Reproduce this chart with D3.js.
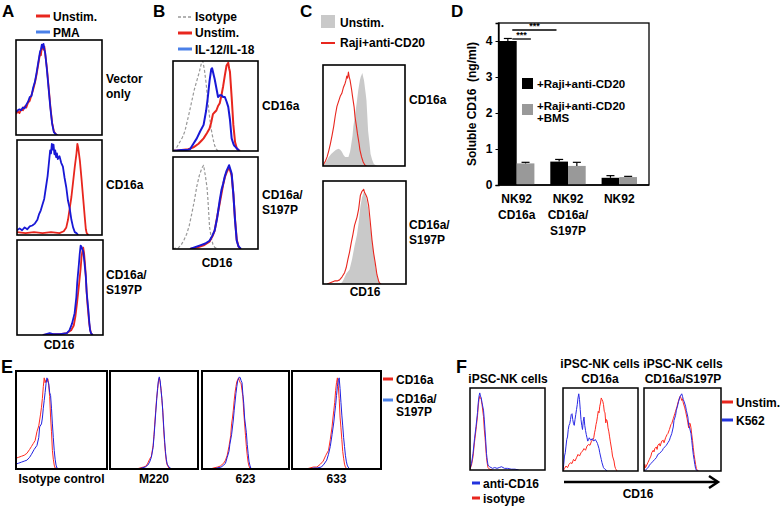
<!DOCTYPE html>
<html><head><meta charset="utf-8">
<script src="https://cdn.jsdelivr.net/npm/d3@7"></script>
<style>body{margin:0;background:#fff}svg{display:block}</style>
</head><body>
<script>
// ================= DATA =================
// Histogram curves: [channel % of box width, count % of box height]
// Panel A
const aVecUnstim=[[0,22],[2,25],[4,23],[6,27],[8,26],[10,30],[12,29],[14,34],[16,36],[18,42],[20,48],[22,55],[24,64],[26,75],[28,86],[29,84],[30,92],[31,95],[32,90],[33,93],[34,85],[36,70],[38,50],[40,30],[42,13],[44,4],[46,1],[48,0]];
const aVecPMA=[[0,24],[2,26],[4,27],[6,26],[8,29],[10,28],[12,32],[14,35],[16,40],[18,41],[20,50],[22,56],[24,66],[26,77],[28,88],[29,90],[30,95],[31,92],[32,96],[33,90],[34,86],[36,68],[38,48],[40,28],[42,12],[44,3],[46,1],[48,0]];
const aCdUnstim=[[0,3],[10,2],[20,3],[30,2],[40,3],[50,2],[55,4],[58,8],[60,16],[62,28],[64,40],[66,56],[68,72],[70,86],[71,96],[72,92],[73,85],[74,78],[76,58],[78,37],[80,16],[81,6],[82,2],[84,0]];
const aCdPMA=[[0,5],[3,7],[6,5],[9,8],[12,6],[15,9],[18,10],[21,12],[24,16],[26,22],[28,26],[30,32],[32,38],[34,50],[36,62],[38,80],[39,89],[40,86],[41,96],[42,90],[43,95],[44,85],[45,89],[46,82],[47,86],[48,80],[50,83],[52,76],[54,72],[56,60],[58,50],[60,36],[62,28],[64,16],[66,8],[68,3],[70,2],[72,0]];
const aSpUnstim=[[30,0],[40,1],[50,1],[58,2],[63,5],[66,10],[68,20],[70,35],[72,52],[74,70],[75,82],[76,88],[77,92],[78,86],[79,76],[80,62],[81,45],[82,32],[83,22],[84,12],[85,6],[86,2],[88,0]];
const aSpPMA=[[30,0],[34,1],[38,2],[42,1],[50,1],[58,2],[61,5],[64,12],[67,23],[69,40],[70,55],[72,75],[73,86],[74,94],[75,93],[76,90],[77,88],[78,80],[80,62],[81,45],[83,26],[84,14],[85,5],[86,2],[88,0]];
// Panel B
const bCdIso=[[0,0],[3,2],[5,5],[8,10],[11,15],[14,22],[16,30],[19,42],[22,55],[25,68],[28,78],[31,88],[33,96],[35,100],[37,90],[39,75],[41,55],[43,38],[45,24],[47,14],[49,6],[51,2],[53,0]];
const bCdUnstim=[[0,0],[10,1],[18,2],[24,4],[30,8],[34,12],[36,14],[40,20],[43,25],[45,32],[47,41],[49,43],[51,45],[53,50],[55,53],[57,62],[59,72],[61,84],[63,95],[65,98],[66,92],[67,88],[69,60],[71,29],[73,10],[75,3],[77,1],[79,0]];
const bCdIL=[[0,0],[10,1],[16,1],[20,2],[24,8],[28,14],[32,22],[36,29],[39,45],[41,60],[43,78],[45,91],[46,92],[47,88],[48,84],[49,80],[51,70],[53,60],[55,62],[57,62],[59,60],[61,60],[63,55],[65,49],[67,35],[69,14],[71,8],[72,6],[74,4],[76,2],[78,0]];
const bSpIso=[[0,0],[3,1],[6,1],[10,5],[13,10],[16,16],[19,25],[22,38],[25,52],[28,68],[31,80],[34,88],[36,91],[38,80],[40,67],[41,55],[43,24],[45,12],[47,5],[49,2],[52,0]];
const bSpUnstim=[[20,0],[30,2],[36,4],[43,8],[47,15],[49,20],[52,35],[55,50],[57,60],[59,70],[61,78],[63,83],[65,87],[66,88],[67,86],[69,80],[71,60],[73,32],[75,10],[77,3],[79,0]];
const bSpIL=[[20,0],[26,2],[32,4],[38,6],[43,9],[46,14],[49,20],[52,34],[55,53],[57,64],[59,71],[61,79],[63,85],[65,89],[66,91],[67,88],[69,82],[71,60],[73,31],[75,9],[77,3],[78,2],[80,0]];
// Panel C
const cCdUnstim=[[0,0],[2,2],[5,6],[7,9],[10,12],[13,14],[16,16],[19,17],[21,16],[23,14],[25,11],[27,9],[29,9],[31,9],[33,14],[34,19],[36,30],[37,39],[39,50],[41,62],[43,75],[45,85],[46,88],[47,90],[48,92],[49,88],[50,85],[52,72],[53,65],[54,50],[55,35],[57,20],[58,12],[60,6],[62,2],[64,1],[66,0]];
const cCdRaji=[[0,0],[1,2],[3,5],[5,9],[7,15],[9,22],[11,30],[13,39],[15,50],[17,59],[19,64],[21,69],[23,72],[25,78],[27,82],[28,85],[29,89],[30,87],[31,93],[32,88],[33,85],[35,75],[36,69],[38,58],[39,49],[41,38],[42,32],[44,22],[45,16],[47,9],[49,4],[51,1],[53,0]];
const cSpUnstim=[[18,0],[22,1],[24,3],[28,10],[32,14],[35,24],[38,37],[41,48],[43,60],[45,75],[47,84],[49,89],[50,88],[51,87],[53,80],[55,70],[57,55],[59,43],[61,30],[63,17],[65,8],[67,3],[70,0]];
const cSpRaji=[[5,0],[8,1],[11,2],[14,3],[17,3],[20,4],[23,7],[26,11],[28,16],[30,24],[32,31],[34,40],[36,48],[38,57],[41,65],[43,73],[45,86],[47,90],[49,92],[50,89],[52,86],[53,84],[55,76],[57,60],[59,43],[61,30],[63,20],[65,9],[67,3],[68,1],[70,0]];
// Panel D
const dGroups=[["NK92","CD16a"],["NK92","CD16a/","S197P"],["NK92"]];
const dSeries=["+Raji+anti-CD20","+Raji+anti-CD20\n+BMS"];
const dValues=[[4.0,0.60],[0.65,0.53],[0.20,0.22]];
const dErrors=[[0.07,0.03],[0.06,0.10],[0.06,0.02]];
const dTicks=[0,1,2,3,4];
// Panel E
const eIsoA=[[0,11],[3,12],[6,13],[9,14],[12,16],[15,20],[17,23],[19,26],[21,29],[23,38],[25,44],[26,50],[27,56],[28,63],[29,72],[30,84],[31,93],[32,88],[33,91],[34,89],[35,92],[36,85],[37,74],[38,53],[39,38],[40,19],[41,10],[42,4],[43,1],[45,0]];
const eIsoS=[[0,5],[3,6],[6,7],[9,8],[12,9],[15,12],[17,15],[20,20],[23,24],[25,32],[26,43],[28,46],[29,52],[30,62],[31,70],[32,78],[33,87],[34,93],[35,90],[36,87],[37,78],[38,75],[39,62],[40,46],[41,32],[42,19],[43,10],[44,4],[45,1],[47,0]];
const eM220A=[[30,0],[34,1],[38,2],[41,3],[43,6],[45,10],[47,13],[49,24],[50,35],[51,48],[52,60],[53,72],[54,80],[55,89],[56,93],[57,88],[58,82],[59,70],[60,60],[61,40],[62,27],[63,16],[64,8],[65,4],[67,1],[69,0]];
const eM220S=[[32,0],[36,1],[40,2],[43,4],[45,7],[47,12],[49,22],[50,33],[51,45],[52,58],[53,70],[54,82],[55,90],[56,94],[57,90],[58,80],[59,72],[60,58],[61,44],[62,30],[63,18],[64,10],[65,5],[67,2],[70,0]];
const e623A=[[10,0],[13,1],[18,2],[21,3],[25,6],[27,9],[29,14],[31,23],[33,34],[34,46],[35,52],[36,60],[37,70],[38,78],[39,84],[40,89],[41,91],[42,93],[43,90],[44,88],[45,87],[46,80],[47,74],[48,58],[49,46],[50,34],[51,23],[52,14],[53,7],[54,3],[55,1],[57,0]];
const e623S=[[14,0],[17,1],[22,2],[25,4],[27,6],[29,12],[31,18],[32,25],[34,35],[36,50],[37,60],[39,77],[40,84],[41,90],[42,92],[43,94],[44,93],[45,90],[46,88],[47,76],[48,67],[49,52],[51,37],[52,25],[53,16],[54,8],[55,4],[56,1],[58,0]];
const e633A=[[16,0],[20,1],[24,2],[28,2],[32,5],[35,8],[38,14],[41,19],[43,30],[45,43],[46,52],[47,60],[48,68],[49,80],[50,88],[51,93],[52,85],[53,72],[54,53],[55,42],[56,30],[57,18],[58,11],[59,5],[60,2],[62,0]];
const e633S=[[20,0],[24,1],[28,1],[33,2],[36,5],[39,9],[41,15],[43,23],[45,35],[47,48],[48,57],[49,65],[50,75],[51,84],[52,90],[53,93],[54,82],[55,68],[56,55],[57,44],[58,32],[59,23],[60,14],[61,8],[62,4],[63,2],[65,0]];
const eLabels=["Isotype control","M220","623","633"];
// Panel F
const fAnti=[[0,2],[2,8],[4,20],[6,38],[8,53],[10,70],[11,82],[12,90],[13,94],[14,90],[15,88],[16,82],[18,73],[19,62],[20,49],[21,35],[22,20],[23,12],[24,6],[26,4],[28,3],[30,2],[33,3],[36,2],[39,3],[42,4],[44,3],[46,2],[50,2],[55,1],[60,1],[65,0]];
const fIso=[[0,1],[2,6],[4,16],[6,34],[8,49],[10,66],[11,78],[12,86],[13,90],[14,87],[15,86],[16,80],[18,65],[19,50],[20,40],[22,15],[23,8],[24,3],[26,1],[30,0]];
const fCdU=[[0,0],[2,3],[4,6],[6,4],[8,8],[10,10],[12,9],[14,14],[16,12],[18,16],[20,20],[22,18],[24,22],[26,24],[28,27],[30,25],[32,30],[34,32],[36,31],[38,36],[40,38],[41,40],[42,46],[43,50],[44,56],[45,60],[46,66],[47,72],[48,70],[49,78],[50,82],[51,88],[52,86],[53,84],[54,80],[55,72],[56,70],[57,58],[58,62],[59,60],[60,52],[61,48],[62,42],[63,36],[65,25],[66,18],[68,12],[69,6],[70,3],[72,0]];
const fCdK=[[0,1],[1,8],[2,18],[3,22],[4,30],[5,38],[6,41],[7,50],[8,55],[9,57],[10,62],[11,68],[12,69],[13,62],[14,57],[15,55],[16,62],[17,68],[18,74],[19,80],[20,88],[21,93],[22,86],[23,74],[24,62],[25,55],[26,50],[27,60],[28,65],[29,55],[30,49],[31,44],[32,40],[33,36],[34,38],[35,40],[37,37],[39,39],[41,36],[43,38],[45,35],[46,33],[48,27],[49,22],[51,14],[52,10],[54,4],[56,2],[59,0]];
const fSpU=[[0,0],[1,8],[2,4],[3,6],[5,10],[7,14],[9,18],[10,22],[12,25],[13,23],[14,27],[16,29],[17,26],[18,31],[20,33],[21,30],[23,36],[25,37],[26,34],[28,40],[30,44],[31,45],[33,50],[35,56],[36,57],[38,63],[40,69],[41,72],[43,78],[44,82],[46,88],[47,90],[48,88],[49,85],[50,87],[51,82],[53,76],[54,72],[56,63],[57,58],[58,52],[59,58],[60,57],[61,52],[62,44],[63,37],[64,28],[65,20],[66,14],[67,8],[68,3],[69,1],[71,0]];
const fSpK=[[0,0],[2,1],[4,3],[6,5],[7,7],[9,9],[11,11],[12,12],[14,14],[16,16],[18,20],[20,21],[22,23],[24,25],[25,27],[27,29],[29,31],[31,34],[33,37],[34,40],[36,45],[38,53],[39,61],[41,67],[42,73],[44,80],[45,84],[47,90],[49,93],[50,90],[51,86],[52,84],[54,78],[55,73],[57,65],[58,55],[59,53],[61,45],[62,37],[63,28],[64,20],[65,14],[66,8],[67,3],[68,1],[70,0]];

// ================= DRAWING =================
const W=780,H=509;
const FONT="'Liberation Sans', Arial, Helvetica, sans-serif";
const RED="#e8261e", BLUE="#1818d6", LBLUE="#4a80e8", GRAY="#999999", FILLG="#c9c9c9";
const svg=d3.select("body").append("svg").attr("width",W).attr("height",H);
svg.append("rect").attr("width",W).attr("height",H).attr("fill","#fff");

function txt(x,y,s,size,anchor){
  return svg.append("text").attr("x",x).attr("y",y).text(s)
    .attr("font-family",FONT).attr("font-weight","bold")
    .attr("font-size",size||12).attr("text-anchor",anchor||"start").attr("fill","#000");
}
function lines(x,y,arr,size,anchor,lh){
  arr.forEach((s,i)=>txt(x,y+i*(lh||15),s,size,anchor));
}
function hline(x0,x1,y,color,w,dash){
  const l=svg.append("line").attr("x1",x0).attr("x2",x1).attr("y1",y).attr("y2",y)
    .attr("stroke",color).attr("stroke-width",w||3);
  if(dash) l.attr("stroke-dasharray",dash);
}
let clipId=0;
function hist(box,series,bw){
  const x=d3.scaleLinear().domain([0,100]).range([box[0],box[1]]);
  const y=d3.scaleLinear().domain([0,100]).range([box[3],box[2]]);
  const id="clip"+(clipId++);
  svg.append("clipPath").attr("id",id).append("rect")
    .attr("x",box[0]).attr("y",box[2]).attr("width",box[1]-box[0]).attr("height",box[3]-box[2]);
  const g=svg.append("g").attr("clip-path","url(#"+id+")");
  series.forEach(s=>{
    if(s.fill){
      const area=d3.area().x(d=>x(d[0])).y0(y(0)).y1(d=>y(d[1]));
      g.append("path").datum(s.data).attr("d",area).attr("fill",s.fill).attr("stroke","none");
    } else {
      const line=d3.line().x(d=>x(d[0])).y(d=>y(d[1]));
      const p=g.append("path").datum(s.data).attr("d",line).attr("fill","none")
        .attr("stroke",s.color).attr("stroke-width",s.w||1).attr("stroke-linejoin","round");
      if(s.dash) p.attr("stroke-dasharray",s.dash);
    }
  });
  svg.append("rect").attr("x",box[0]).attr("y",box[2]).attr("width",box[1]-box[0]).attr("height",box[3]-box[2])
    .attr("fill","none").attr("stroke","#000").attr("stroke-width",bw||1.6);
}

// ---------- Panel A ----------
txt(2,17,"A",17);
hline(36,50,16,RED,3); txt(53,21,"Unstim.");
hline(36,50,32,LBLUE,3); txt(53,37,"PMA");
hist([16,102,40,135],[{data:aVecUnstim,color:RED,w:1.8},{data:aVecPMA,color:BLUE,w:1.8}]);
hist([17,102,140,235],[{data:aCdUnstim,color:RED,w:1.8},{data:aCdPMA,color:BLUE,w:1.8}]);
hist([17,103,240,335],[{data:aSpUnstim,color:RED,w:1.8},{data:aSpPMA,color:BLUE,w:1.8}]);
lines(106,83,["Vector","only"]);
txt(106,189,"CD16a");
lines(106,279,["CD16a/","S197P"]);
txt(59,349,"CD16",12,"middle");

// ---------- Panel B ----------
txt(153,17,"B",17);
hline(178,192,17,GRAY,1.5,"3,2"); txt(195,21,"Isotype");
hline(178,192,33,RED,3); txt(195,37,"Unstim.");
hline(178,192,49,LBLUE,3); txt(195,54,"IL-12/IL-18");
hist([173,258,61,151],[{data:bCdIso,color:GRAY,w:1.2,dash:"3,2"},{data:bCdUnstim,color:RED,w:2},{data:bCdIL,color:BLUE,w:2}]);
hist([173,258,157,249],[{data:bSpIso,color:GRAY,w:1.2,dash:"3,2"},{data:bSpUnstim,color:RED,w:2},{data:bSpIL,color:BLUE,w:2}]);
txt(262,110,"CD16a");
lines(262,199,["CD16a/","S197P"]);
txt(217,267,"CD16",12,"middle");

// ---------- Panel C ----------
txt(300,17,"C",17);
svg.append("rect").attr("x",321).attr("y",15).attr("width",14).attr("height",13).attr("fill",FILLG);
txt(340,27,"Unstim.");
hline(321,335,43,RED,2); txt(340,47,"Raji+anti-CD20");
hist([323,405,65,166],[{data:cCdUnstim,fill:FILLG},{data:cCdRaji,color:RED,w:1.1}]);
hist([323,406,181,284],[{data:cSpUnstim,fill:FILLG},{data:cSpRaji,color:RED,w:1.1}]);
txt(409,104,"CD16a");
lines(409,229,["CD16a/","S197P"]);
txt(365,296,"CD16",12,"middle");

// ---------- Panel D ----------
txt(451,17,"D",17);
const dY=d3.scaleLinear().domain([0,4.5]).range([185,23]);
const dX0=d3.scaleBand().domain(d3.range(dGroups.length)).range([499,637]).paddingInner(0.31).paddingOuter(0);
const dX1=d3.scaleBand().domain(d3.range(2)).range([0,dX0.bandwidth()]);
const dCols=["#000000","#999999"];
svg.append("rect").attr("x",498.5).attr("y",dY(4.5)).attr("width",649-498.5).attr("height",dY(0)-dY(4.5))
  .attr("fill","none").attr("stroke","#000").attr("stroke-width",1.3);
dValues.forEach((vals,gi)=>{
  vals.forEach((v,si)=>{
    const bx=dX0(gi)+dX1(si), bw=dX1.bandwidth();
    svg.append("rect").attr("x",bx).attr("y",dY(v)).attr("width",bw).attr("height",dY(0)-dY(v)).attr("fill",dCols[si]);
    const cx=bx+bw/2, top=dY(v+dErrors[gi][si]);
    svg.append("line").attr("x1",cx).attr("x2",cx).attr("y1",dY(v)).attr("y2",top).attr("stroke","#000").attr("stroke-width",1.2);
    svg.append("line").attr("x1",cx-4).attr("x2",cx+4).attr("y1",top).attr("y2",top).attr("stroke","#000").attr("stroke-width",1.2);
  });
});
const ax=svg.append("g").attr("transform","translate(498.5,0)")
  .call(d3.axisLeft(dY).tickValues(dTicks).tickSize(3).tickPadding(3).tickFormat(d3.format("d")));
ax.select(".domain").attr("stroke","#000").attr("stroke-width",1.3);
ax.selectAll("text").attr("font-family",FONT).attr("font-weight","bold").attr("font-size",12).attr("fill","#000");
svg.append("line").attr("x1",498.5).attr("x2",649).attr("y1",dY(0)).attr("y2",dY(0)).attr("stroke","#000").attr("stroke-width",1.6);
svg.append("text").attr("transform","translate(476,104) rotate(-90)").attr("text-anchor","middle")
  .attr("font-family",FONT).attr("font-weight","bold").attr("font-size",12).style("white-space","pre")
  .text("Soluble CD16  (ng/ml)");
dGroups.forEach((lab,gi)=>{
  const cx=dX0(gi)+dX0.bandwidth()/2;
  lines(cx,203,lab,12,"middle",16);
});
const s1x0=dX0(0)+dX1(0)+dX1.bandwidth()*0.75, s1x1=dX0(0)+dX1(1)+dX1.bandwidth()*0.8;
const s2x1=dX0(1)+dX1(0)+dX1.bandwidth()*0.35;
svg.append("line").attr("x1",s1x0).attr("x2",s1x1).attr("y1",39).attr("y2",39).attr("stroke","#000").attr("stroke-width",1.3);
svg.append("line").attr("x1",s1x0).attr("x2",s2x1).attr("y1",30).attr("y2",30).attr("stroke","#000").attr("stroke-width",1.3);
txt((s1x0+s1x1)/2,38,"***",9,"middle");
txt((s1x0+s2x1)/2,29,"***",9,"middle");
svg.append("rect").attr("x",522).attr("y",78).attr("width",11).attr("height",11).attr("fill",dCols[0]);
svg.append("rect").attr("x",522).attr("y",104).attr("width",11).attr("height",11).attr("fill",dCols[1]);
lines(537,88,dSeries[0].split("\n"),11.5,"start",12);
lines(537,110,dSeries[1].split("\n"),11.5,"start",12);

// ---------- Panel E ----------
txt(1,373,"E",18);
const eBoxes=[[16,107,371,469],[110,198,371,469],[202,289,371,469],[292,381,371,469]];
const eData=[[eIsoA,eIsoS],[eM220A,eM220S],[e623A,e623S],[e633A,e633S]];
eBoxes.forEach((b,i)=>{
  hist(b,[{data:eData[i][0],color:"#ff2a20",w:1},{data:eData[i][1],color:"#2020e0",w:1}],2);
  txt((b[0]+b[1])/2,483,eLabels[i],12,"middle");
});
hline(383,393,379,RED,3); txt(396,384,"CD16a");
hline(383,393,400,LBLUE,3); lines(396,403,["CD16a/","S197P"],12,"start",13);

// ---------- Panel F ----------
txt(456,373,"F",18);
txt(508,383,"iPSC-NK cells",12,"middle");
lines(600,368,["iPSC-NK cells","CD16a"],12,"middle",15);
lines(683,368,["iPSC-NK cells","CD16a/S197P"],12,"middle",15);
hist([470,545,388,470],[{data:fIso,color:"#ff2a20",w:1},{data:fAnti,color:"#2a2ae6",w:1}],1.5);
hist([563,638,388,471],[{data:fCdU,color:"#ff2a20",w:1},{data:fCdK,color:"#2a2ae6",w:1}],1.5);
hist([644,721,388,471],[{data:fSpU,color:"#ff2a20",w:1},{data:fSpK,color:"#2a2ae6",w:1}],1.5);
hline(472,480,483,"#2233dd",3); txt(483,488,"anti-CD16");
hline(472,480,498,RED,3); txt(483,503,"isotype");
hline(722,733,402,RED,3); txt(736,407,"Unstim.");
hline(722,733,420,"#2233dd",3); txt(736,425,"K562");
svg.append("line").attr("x1",564).attr("x2",716).attr("y1",482).attr("y2",482).attr("stroke","#000").attr("stroke-width",2.5);
svg.append("path").attr("d","M709,476 L718,482 L709,488").attr("fill","none").attr("stroke","#000").attr("stroke-width",2.5);
txt(638,498,"CD16",12,"middle");
</script>
</body></html>
